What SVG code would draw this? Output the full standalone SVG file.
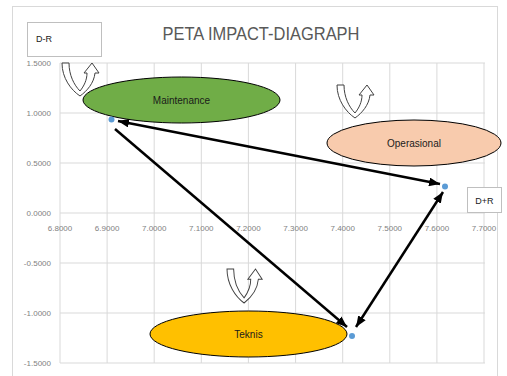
<svg xmlns="http://www.w3.org/2000/svg" width="507" height="376" viewBox="0 0 507 376">
<style>
.grid{stroke:#d9d9d9;stroke-width:1;fill:none}
.tick{font-family:"Liberation Sans",Arial,sans-serif;font-size:8px;fill:#7f7f7f}
.lbl{font-family:"Liberation Sans",Arial,sans-serif;font-size:10px;fill:#1a1a1a;text-anchor:middle}
.box{fill:#fff;stroke:#bfbfbf;stroke-width:1}
.uturn{fill:#fff;stroke:#404040;stroke-width:1}
.conn{stroke:#000;stroke-width:2.5;fill:none}
.dot{fill:#5b9bd5}
.ell{stroke:#000;stroke-width:1}
</style>
<defs>
<marker id="ah" viewBox="0 0 10 8" refX="10" refY="4" markerWidth="11" markerHeight="9" markerUnits="userSpaceOnUse" orient="auto-start-reverse">
<path d="M0,0 L10,4 L0,8 Z" fill="#000"/>
</marker>
<path id="u" d="M0,0 L7,0 C7,12 12,22 18,28 C22,23 25,17 25,10 L22,10 L30,0 L37,10 L33,10 C32,20 25,28 18,33 C9,27 0,15 0,0 Z"/>
</defs>
<rect x="0" y="0" width="507" height="376" fill="#fff"/>
<rect x="12.5" y="6.5" width="485" height="380" fill="#fff" stroke="#d9d9d9"/>
<g id="chart">
<g class="grid">
<path d="M60,63H485M60,113H485M60,163H485M60,213H485M60,263H485M60,313H485M60,363H485"/>
<path d="M60,63V363M107.1,63V363M154.2,63V363M201.3,63V363M248.4,63V363M295.6,63V363M342.7,63V363M389.8,63V363M436.9,63V363M484,63V363"/>
</g>
<g class="tick" text-anchor="end">
<text x="51" y="66">1.5000</text>
<text x="51" y="116">1.0000</text>
<text x="51" y="166">0.5000</text>
<text x="51" y="216">0.0000</text>
<text x="51" y="266">-0.5000</text>
<text x="51" y="316">-1.0000</text>
<text x="51" y="366">-1.5000</text>
</g>
<g class="tick" text-anchor="middle">
<text x="60" y="231">6.8000</text>
<text x="107.1" y="231">6.9000</text>
<text x="154.2" y="231">7.0000</text>
<text x="201.3" y="231">7.1000</text>
<text x="248.4" y="231">7.2000</text>
<text x="295.6" y="231">7.3000</text>
<text x="342.7" y="231">7.4000</text>
<text x="389.8" y="231">7.5000</text>
<text x="436.9" y="231">7.6000</text>
<text x="484" y="231">7.7000</text>
</g>
<text x="261" y="40" font-family="'Liberation Sans',Arial,sans-serif" font-size="19" fill="#595959" text-anchor="middle" textLength="197" lengthAdjust="spacingAndGlyphs">PETA IMPACT-DIAGRAPH</text>
</g>
<g id="axis-dr">
<rect class="box" x="27.5" y="22.5" width="74" height="34"/>
<text x="36" y="42" font-family="'Liberation Sans',Arial,sans-serif" font-size="9" fill="#1a1a1a">D-R</text>
</g>
<g id="axis-dpr">
<rect class="box" x="467.5" y="187.5" width="34" height="25"/>
<text x="484.5" y="204" font-family="'Liberation Sans',Arial,sans-serif" font-size="9" fill="#1a1a1a" text-anchor="middle">D+R</text>
</g>
<g id="maintenance">
<use href="#u" class="uturn" transform="translate(62,63)"/>
<ellipse class="ell" cx="181.5" cy="100" rx="98.5" ry="23" fill="#70ad47"/>
<text class="lbl" x="181.5" y="104">Maintenance</text>
<circle class="dot" cx="111.5" cy="119.5" r="3"/>
</g>
<g id="operasional">
<use href="#u" class="uturn" transform="translate(337,85)"/>
<ellipse class="ell" cx="414" cy="143" rx="87" ry="23" fill="#f8cbad"/>
<text class="lbl" x="414" y="147">Operasional</text>
<circle class="dot" cx="445" cy="186.5" r="3"/>
</g>
<g id="teknis">
<use href="#u" class="uturn" transform="translate(227,269) scale(0.95,1.03)"/>
<ellipse class="ell" cx="248.5" cy="334" rx="98.5" ry="23" fill="#ffc000"/>
<text class="lbl" x="248.5" y="338">Teknis</text>
<circle class="dot" cx="352" cy="336" r="3"/>
</g>
<g id="connectors">
<line class="conn" x1="118" y1="121" x2="440" y2="184" marker-start="url(#ah)" marker-end="url(#ah)"/>
<line class="conn" x1="115" y1="129" x2="347" y2="327" marker-end="url(#ah)"/>
<line class="conn" x1="356" y1="327" x2="443" y2="192" marker-start="url(#ah)" marker-end="url(#ah)"/>
</g>
</svg>
